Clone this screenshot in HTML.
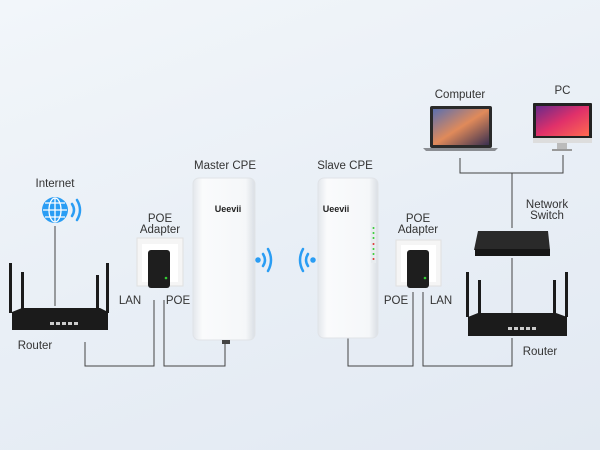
<!DOCTYPE html>
<html><head><style>
body{margin:0;width:600px;height:450px;overflow:hidden;font-family:"Liberation Sans",sans-serif;}
.bg{position:absolute;left:0;top:0;width:600px;height:450px;background:linear-gradient(160deg,#f2f6fa 0%,#e9eff6 50%,#e2e9f2 100%);}
.t{position:absolute;font-size:11.5px;color:#333;text-align:center;line-height:11px;}
</style></head><body>
<div class="bg"></div>
<svg width="600" height="450" style="position:absolute;left:0;top:0">
<defs>
<linearGradient id="cpe" x1="0" x2="1"><stop offset="0" stop-color="#e3e7ec"/><stop offset=".15" stop-color="#fafbfc"/><stop offset=".85" stop-color="#f5f7f9"/><stop offset="1" stop-color="#d9dee4"/></linearGradient>
<linearGradient id="lap" x1="0" y1="0" x2="1" y2="1"><stop offset="0" stop-color="#5a6fb0"/><stop offset=".5" stop-color="#e08a5a"/><stop offset="1" stop-color="#3a3050"/></linearGradient>
<linearGradient id="pc" x1="0" y1="0" x2="1" y2="1"><stop offset="0" stop-color="#6a2a8a"/><stop offset=".5" stop-color="#e0306a"/><stop offset="1" stop-color="#ff6a50"/></linearGradient>
</defs>
<g fill="none" stroke="#444" stroke-width="1">
<path d="M55 226V306"/>
<path d="M85 342V366H154V300"/>
<path d="M164 300V366H225V340"/>
<path d="M348 338V366H413V292"/>
<path d="M423 292V366H512V338"/>
<path d="M460 158V173H563V155"/>
<path d="M512 173V228M512 258V314"/>
</g>
<circle cx="55" cy="210" r="13" fill="#2a9df4"/>
<g stroke="#fff" stroke-width="1.3" fill="none"><ellipse cx="55" cy="210" rx="6" ry="12"/><path d="M43 210H67M45 203H65M45 217H65M55 198V222"/></g>
<g stroke="#2a9df4" stroke-width="2.5" fill="none" stroke-linecap="round"><path d="M72 204Q76 210 72 216"/><path d="M77 200Q83 210 77 220"/></g>
<g fill="#1b1b1b"><rect x="9" y="263" width="3" height="50"/><rect x="21" y="272" width="3" height="40"/><rect x="96" y="275" width="3" height="38"/><rect x="106" y="263" width="3" height="50"/>
<path d="M12 312L22 308H100L108 312V330H12Z"/></g>
<g fill="#ccc"><rect x="50" y="322" width="4" height="3"/><rect x="56" y="322" width="4" height="3"/><rect x="62" y="322" width="4" height="3"/><rect x="68" y="322" width="4" height="3"/><rect x="74" y="322" width="4" height="3"/></g>
<rect x="137" y="238" width="46" height="48" fill="#f5f5f5" stroke="#e0e0e0"/>
<rect x="142" y="244" width="36" height="38" fill="#fff"/>
<rect x="148" y="250" width="22" height="38" rx="3" fill="#1e1e1e"/>
<circle cx="166" cy="278" r="1.3" fill="#3c3"/>
<rect x="193" y="178" width="62" height="162" rx="6" fill="url(#cpe)" stroke="#e0e3e7"/>
<rect x="222" y="340" width="8" height="4" fill="#444"/>
<text x="228" y="212" font-family="Liberation Sans" font-weight="bold" font-size="9" fill="#222" text-anchor="middle">Ueevii</text>
<g stroke="#2a9df4" stroke-width="2.5" fill="none" stroke-linecap="round">
<circle cx="258" cy="260" r="1.5" fill="#2a9df4"/>
<path d="M263 254Q267 260 263 266"/><path d="M268 249Q274 260 268 271"/>
<circle cx="313" cy="260" r="1.5" fill="#2a9df4"/>
<path d="M308 254Q304 260 308 266"/><path d="M303 249Q297 260 303 271"/>
</g>
<rect x="318" y="178" width="60" height="160" rx="6" fill="url(#cpe)" stroke="#e0e3e7"/>
<text x="336" y="212" font-family="Liberation Sans" font-weight="bold" font-size="9" fill="#222" text-anchor="middle">Ueevii</text>
<g><rect x="371" y="223" width="5" height="40" fill="#e8ecef"/>
<circle cx="373.5" cy="228" r="1" fill="#3c3"/><circle cx="373.5" cy="233" r="1" fill="#3c3"/><circle cx="373.5" cy="238" r="1" fill="#3c3"/><circle cx="373.5" cy="244" r="1" fill="#d33"/><circle cx="373.5" cy="249" r="1" fill="#3c3"/><circle cx="373.5" cy="254" r="1" fill="#3c3"/><circle cx="373.5" cy="259" r="1" fill="#d33"/></g>
<rect x="396" y="240" width="45" height="46" fill="#f5f5f5" stroke="#e0e0e0"/>
<rect x="401" y="245" width="35" height="37" fill="#fff"/>
<rect x="407" y="250" width="22" height="38" rx="3" fill="#1e1e1e"/>
<circle cx="425" cy="278" r="1.3" fill="#3c3"/>
<path d="M478 231H548L550 250H474Z" fill="#2a2a2a"/><rect x="475" y="249" width="75" height="7" fill="#161616"/>
<g fill="#1b1b1b"><rect x="466" y="272" width="3" height="45"/><rect x="478" y="280" width="3" height="37"/><rect x="553" y="280" width="3" height="37"/><rect x="565" y="272" width="3" height="45"/>
<path d="M468 317L478 313H556L567 317V336H468Z"/></g>
<g fill="#ccc"><rect x="508" y="327" width="4" height="3"/><rect x="514" y="327" width="4" height="3"/><rect x="520" y="327" width="4" height="3"/><rect x="526" y="327" width="4" height="3"/><rect x="532" y="327" width="4" height="3"/></g>
<rect x="430" y="106" width="62" height="42" rx="2" fill="#2a2a2a"/>
<rect x="433" y="109" width="56" height="36" fill="url(#lap)"/>
<path d="M423 148H498L495 151H426Z" fill="#8a8d92"/>
<rect x="533" y="103" width="59" height="38" rx="1" fill="#222"/>
<rect x="536" y="106" width="53" height="30" fill="url(#pc)"/>
<rect x="533" y="138" width="59" height="5" fill="#ddd"/>
<rect x="557" y="143" width="10" height="6" fill="#bbb"/><rect x="552" y="149" width="20" height="2" fill="#999"/>
</svg>
<div class="t" style="left:20px;top:179px;width:70px">Internet</div>
<div class="t" style="left:10px;top:341px;width:50px">Router</div>
<div class="t" style="left:130px;top:214px;width:60px">POE<br>Adapter</div>
<div class="t" style="left:115px;top:296px;width:30px">LAN</div>
<div class="t" style="left:163px;top:296px;width:30px">POE</div>
<div class="t" style="left:190px;top:161px;width:70px">Master CPE</div>
<div class="t" style="left:310px;top:161px;width:70px">Slave CPE</div>
<div class="t" style="left:388px;top:214px;width:60px">POE<br>Adapter</div>
<div class="t" style="left:381px;top:296px;width:30px">POE</div>
<div class="t" style="left:426px;top:296px;width:30px">LAN</div>
<div class="t" style="left:515px;top:347px;width:50px">Router</div>
<div class="t" style="left:517px;top:200px;width:60px">Network<br>Switch</div>
<div class="t" style="left:425px;top:90px;width:70px">Computer</div>
<div class="t" style="left:545px;top:86px;width:35px">PC</div>
</body></html>
